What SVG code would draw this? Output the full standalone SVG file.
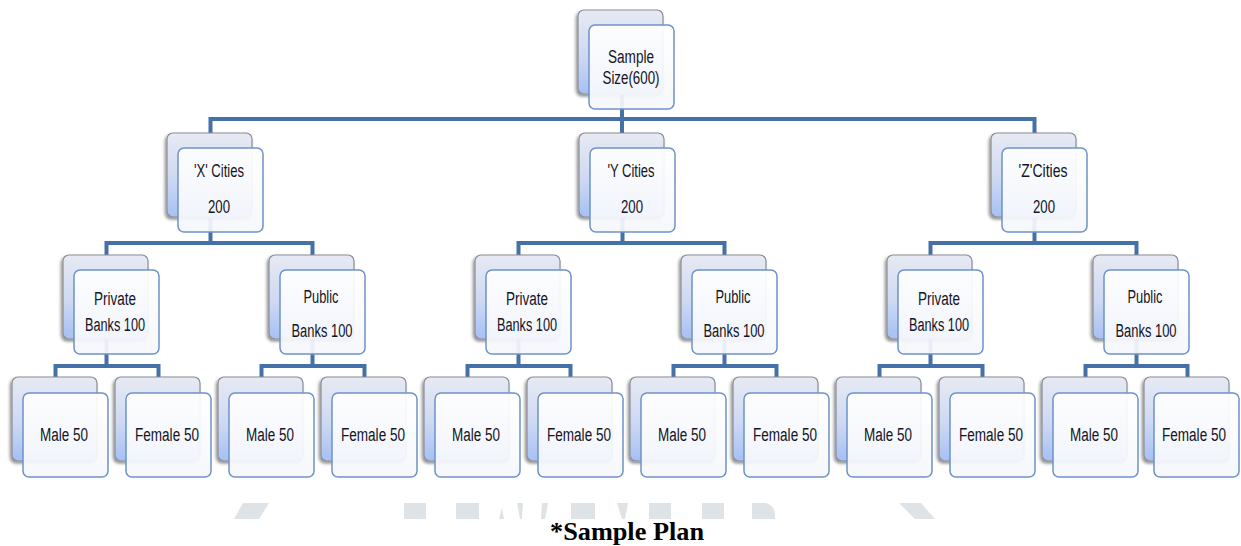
<svg xmlns="http://www.w3.org/2000/svg" width="1241" height="546" viewBox="0 0 1241 546">
<style>
.bk{fill:url(#bg);stroke:#8a8d94;stroke-width:1.2;filter:url(#sh)}
.fr{fill:url(#fg);fill-opacity:0.93;stroke:#6d92c8;stroke-width:1.5}
.t{font-family:"Liberation Sans Narrow","Liberation Sans",Arial,sans-serif;font-size:18px;fill:#141424;text-anchor:middle}
.cn{fill:none;stroke:#4671a8;stroke-width:4;stroke-linejoin:miter}
.wm{fill:#dde3e6}
.cap{font-family:"Liberation Serif","Times New Roman",serif;font-weight:bold;font-size:26px;fill:#000;text-anchor:middle}
</style>
<defs>
<linearGradient id="bg" x1="0" y1="0" x2="0" y2="1">
<stop offset="0" stop-color="#e7eaf3"/>
<stop offset="0.55" stop-color="#cdd9f3"/>
<stop offset="1" stop-color="#a5c0f4"/>
</linearGradient>
<linearGradient id="fg" x1="0" y1="0" x2="0" y2="1">
<stop offset="0" stop-color="#ffffff"/>
<stop offset="1" stop-color="#f5f7fc"/>
</linearGradient>
<filter id="sh" x="-20%" y="-20%" width="140%" height="140%">
<feDropShadow dx="-1.5" dy="2" stdDeviation="1.5" flood-color="#000" flood-opacity="0.45"/>
</filter>
</defs>
<rect width="1241" height="546" fill="#fff"/>
<g id="watermark">
<polygon class="wm" points="243,503 269,503 259,519 234,519"/>
<rect class="wm" x="404" y="503" width="22" height="16"/>
<rect class="wm" x="456" y="503" width="23" height="16"/>
<polygon class="wm" points="502,508 504,519 499,519"/>
<polygon class="wm" points="517,503 523,503 522,519 520,519"/>
<polygon class="wm" points="542,503 548,503 545,519 541,519"/>
<rect class="wm" x="571" y="503" width="24" height="16"/>
<polygon class="wm" points="617,503 628,503 625,519 622,519"/>
<rect class="wm" x="649" y="503" width="22" height="16"/>
<rect class="wm" x="702" y="503" width="22" height="16"/>
<path class="wm" d="M752,503 H766 Q775,506 775,515 V519 H752 Z"/>
<polygon class="wm" points="899,503 921,503 935,519 915,519"/>
</g>
<g id="connectors">
<path class="cn" d="M622,95 V119 M210.5,133 V119 H1034.5 V133 M622,119 V133"/>
<path class="cn" d="M210.5,217 V243 M106.5,255 V243 H312.5 V255"/>
<path class="cn" d="M622.5,217 V243 M518.5,255 V243 H724.5 V255"/>
<path class="cn" d="M1034.5,217 V243 M930.5,255 V243 H1136.5 V255"/>
<path class="cn" d="M106.5,339 V366 M55.5,377 V366 H158.5 V377"/>
<path class="cn" d="M312.5,339 V366 M261.5,377 V366 H364.5 V377"/>
<path class="cn" d="M518.5,339 V366 M467.5,377 V366 H570.5 V377"/>
<path class="cn" d="M724.5,339 V366 M673.5,377 V366 H776.5 V377"/>
<path class="cn" d="M930.5,339 V366 M879.5,377 V366 H982.5 V377"/>
<path class="cn" d="M1136.5,339 V366 M1085.5,377 V366 H1187.5 V377"/>
</g>
<g id="n-top"><rect class="bk" x="578" y="10" width="85" height="84" rx="6"/><rect class="fr" x="589" y="25" width="85" height="84" rx="6"/><text class="t" x="631" y="63" textLength="46" lengthAdjust="spacingAndGlyphs">Sample</text><text class="t" x="631" y="84" textLength="57" lengthAdjust="spacingAndGlyphs">Size(600)</text></g>
<g id="n-x"><rect class="bk" x="167" y="133" width="85" height="84" rx="6"/><rect class="fr" x="178" y="148" width="85" height="84" rx="6"/><text class="t" x="219" y="177" textLength="50" lengthAdjust="spacingAndGlyphs">'X' Cities</text><text class="t" x="219" y="213" textLength="22" lengthAdjust="spacingAndGlyphs">200</text></g>
<g id="n-y"><rect class="bk" x="579" y="133" width="85" height="84" rx="6"/><rect class="fr" x="590" y="148" width="85" height="84" rx="6"/><text class="t" x="631" y="177" textLength="47" lengthAdjust="spacingAndGlyphs">'Y Cities</text><text class="t" x="632" y="213" textLength="22" lengthAdjust="spacingAndGlyphs">200</text></g>
<g id="n-z"><rect class="bk" x="991" y="133" width="85" height="84" rx="6"/><rect class="fr" x="1002" y="148" width="85" height="84" rx="6"/><text class="t" x="1043" y="177" textLength="49" lengthAdjust="spacingAndGlyphs">'Z'Cities</text><text class="t" x="1044" y="213" textLength="22" lengthAdjust="spacingAndGlyphs">200</text></g>
<g id="n-x-priv"><rect class="bk" x="63" y="255" width="85" height="84" rx="6"/><rect class="fr" x="74" y="270" width="85" height="84" rx="6"/><text class="t" x="115" y="305" textLength="42" lengthAdjust="spacingAndGlyphs">Private</text><text class="t" x="115" y="331" textLength="60" lengthAdjust="spacingAndGlyphs">Banks 100</text></g>
<g id="n-x-pub"><rect class="bk" x="269" y="255" width="85" height="84" rx="6"/><rect class="fr" x="280" y="270" width="85" height="84" rx="6"/><text class="t" x="321" y="303" textLength="35" lengthAdjust="spacingAndGlyphs">Public</text><text class="t" x="322" y="337" textLength="61" lengthAdjust="spacingAndGlyphs">Banks 100</text></g>
<g id="n-y-priv"><rect class="bk" x="475" y="255" width="85" height="84" rx="6"/><rect class="fr" x="486" y="270" width="85" height="84" rx="6"/><text class="t" x="527" y="305" textLength="42" lengthAdjust="spacingAndGlyphs">Private</text><text class="t" x="527" y="331" textLength="60" lengthAdjust="spacingAndGlyphs">Banks 100</text></g>
<g id="n-y-pub"><rect class="bk" x="681" y="255" width="85" height="84" rx="6"/><rect class="fr" x="692" y="270" width="85" height="84" rx="6"/><text class="t" x="733" y="303" textLength="35" lengthAdjust="spacingAndGlyphs">Public</text><text class="t" x="734" y="337" textLength="61" lengthAdjust="spacingAndGlyphs">Banks 100</text></g>
<g id="n-z-priv"><rect class="bk" x="887" y="255" width="85" height="84" rx="6"/><rect class="fr" x="898" y="270" width="85" height="84" rx="6"/><text class="t" x="939" y="305" textLength="42" lengthAdjust="spacingAndGlyphs">Private</text><text class="t" x="939" y="331" textLength="60" lengthAdjust="spacingAndGlyphs">Banks 100</text></g>
<g id="n-z-pub"><rect class="bk" x="1093" y="255" width="85" height="84" rx="6"/><rect class="fr" x="1104" y="270" width="85" height="84" rx="6"/><text class="t" x="1145" y="303" textLength="35" lengthAdjust="spacingAndGlyphs">Public</text><text class="t" x="1146" y="337" textLength="61" lengthAdjust="spacingAndGlyphs">Banks 100</text></g>
<g id="n-l1"><rect class="bk" x="12" y="377" width="85" height="84" rx="6"/><rect class="fr" x="23" y="393" width="85" height="84" rx="6"/><text class="t" x="64" y="441" textLength="48" lengthAdjust="spacingAndGlyphs">Male 50</text></g>
<g id="n-l2"><rect class="bk" x="115" y="377" width="85" height="84" rx="6"/><rect class="fr" x="126" y="393" width="85" height="84" rx="6"/><text class="t" x="167" y="441" textLength="64" lengthAdjust="spacingAndGlyphs">Female 50</text></g>
<g id="n-l3"><rect class="bk" x="218" y="377" width="85" height="84" rx="6"/><rect class="fr" x="229" y="393" width="85" height="84" rx="6"/><text class="t" x="270" y="441" textLength="48" lengthAdjust="spacingAndGlyphs">Male 50</text></g>
<g id="n-l4"><rect class="bk" x="321" y="377" width="85" height="84" rx="6"/><rect class="fr" x="332" y="393" width="85" height="84" rx="6"/><text class="t" x="373" y="441" textLength="64" lengthAdjust="spacingAndGlyphs">Female 50</text></g>
<g id="n-l5"><rect class="bk" x="424" y="377" width="85" height="84" rx="6"/><rect class="fr" x="435" y="393" width="85" height="84" rx="6"/><text class="t" x="476" y="441" textLength="48" lengthAdjust="spacingAndGlyphs">Male 50</text></g>
<g id="n-l6"><rect class="bk" x="527" y="377" width="85" height="84" rx="6"/><rect class="fr" x="538" y="393" width="85" height="84" rx="6"/><text class="t" x="579" y="441" textLength="64" lengthAdjust="spacingAndGlyphs">Female 50</text></g>
<g id="n-l7"><rect class="bk" x="630" y="377" width="85" height="84" rx="6"/><rect class="fr" x="641" y="393" width="85" height="84" rx="6"/><text class="t" x="682" y="441" textLength="48" lengthAdjust="spacingAndGlyphs">Male 50</text></g>
<g id="n-l8"><rect class="bk" x="733" y="377" width="85" height="84" rx="6"/><rect class="fr" x="744" y="393" width="85" height="84" rx="6"/><text class="t" x="785" y="441" textLength="64" lengthAdjust="spacingAndGlyphs">Female 50</text></g>
<g id="n-l9"><rect class="bk" x="836" y="377" width="85" height="84" rx="6"/><rect class="fr" x="847" y="393" width="85" height="84" rx="6"/><text class="t" x="888" y="441" textLength="48" lengthAdjust="spacingAndGlyphs">Male 50</text></g>
<g id="n-l10"><rect class="bk" x="939" y="377" width="85" height="84" rx="6"/><rect class="fr" x="950" y="393" width="85" height="84" rx="6"/><text class="t" x="991" y="441" textLength="64" lengthAdjust="spacingAndGlyphs">Female 50</text></g>
<g id="n-l11"><rect class="bk" x="1042" y="377" width="85" height="84" rx="6"/><rect class="fr" x="1053" y="393" width="85" height="84" rx="6"/><text class="t" x="1094" y="441" textLength="48" lengthAdjust="spacingAndGlyphs">Male 50</text></g>
<g id="n-l12"><rect class="bk" x="1144" y="377" width="85" height="84" rx="6"/><rect class="fr" x="1154" y="393" width="85" height="84" rx="6"/><text class="t" x="1194" y="441" textLength="64" lengthAdjust="spacingAndGlyphs">Female 50</text></g>
<text class="cap" x="627" y="540" textLength="154" lengthAdjust="spacingAndGlyphs">*Sample Plan</text>
</svg>
